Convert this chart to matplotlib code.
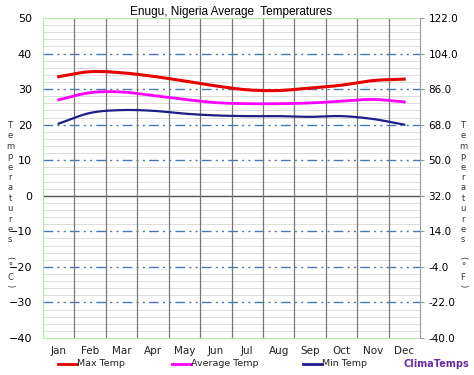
import matplotlib
matplotlib.use("Agg")
import matplotlib.pyplot as plt
import numpy as np

# Enugu, Nigeria - monthly temps (deg C)
months = ['Jan', 'Feb', 'Mar', 'Apr', 'May', 'Jun', 'Jul', 'Aug', 'Sep', 'Oct', 'Nov', 'Dec']
max_temp = [33.5, 34.9, 34.6, 33.6, 32.3, 30.9, 29.8, 29.6, 30.3, 31.1, 32.4, 32.8]
avg_temp = [27.0, 29.0, 29.2, 28.2, 27.1, 26.2, 25.9, 25.9, 26.1, 26.6, 27.1, 26.4]
min_temp = [20.3, 23.3, 24.1, 23.9, 23.1, 22.6, 22.4, 22.4, 22.2, 22.4, 21.6, 20.0]


def smooth(y, n=20):
    # catmull-rom style smoothing so the lines look like the original curves
    y = np.asarray(y, dtype=float)
    p = np.concatenate([[2*y[0]-y[1]], y, [2*y[-1]-y[-2]]])
    xs, ys = [], []
    for i in range(len(y)-1):
        t = np.linspace(0, 1, n, endpoint=False)
        p0, p1, p2, p3 = p[i], p[i+1], p[i+2], p[i+3]
        seg = 0.5*((2*p1) + (-p0+p2)*t + (2*p0-5*p1+4*p2-p3)*t**2 + (-p0+3*p1-3*p2+p3)*t**3)
        xs.extend(i + t)
        ys.extend(seg)
    xs.append(len(y)-1)
    ys.append(y[-1])
    return np.array(xs), np.array(ys)


fig = plt.figure(figsize=(4.74, 3.75), dpi=100)
ax = fig.add_axes([43/474, 1-338/375, 377/474, 320/375])
x = np.arange(12)
ax.set_xlim(-0.5, 11.5)
ax.set_ylim(-40, 50)

# minor grid every 2 degrees
for v in range(-40, 51, 2):
    if v % 10 != 0:
        ax.axhline(v, color='#dcdcdc', lw=0.7, zorder=0)
for v in [-30, -20, -10, 10, 20, 30, 40]:
    ax.axhline(v, color='#4a78b5', lw=1.0, ls=(0, (7, 3, 1.5, 3, 1.5, 3)), zorder=1)
ax.axhline(0, color='#555555', lw=1.0, zorder=1)
for b in np.arange(0.5, 11.5, 1):
    ax.axvline(b, color='#777777', lw=0.9, zorder=1)

for spine in ['left', 'top', 'bottom']:
    ax.spines[spine].set_color('#b8e6b0')
    ax.spines[spine].set_linewidth(0.8)
ax.spines['right'].set_color('#999999')
ax.spines['right'].set_linewidth(0.8)

sx, sy = smooth(max_temp)
ax.plot(sx, sy, color='#e60000', lw=2.2, zorder=3)
sx, sy = smooth(avg_temp)
ax.plot(sx, sy, color='#ff00ff', lw=2.0, zorder=3)
sx, sy = smooth(min_temp)
ax.plot(sx, sy, color='#1f1f8a', lw=1.6, zorder=3)

ax.set_xticks(x)
ax.set_xticklabels(months, fontsize=7.5, color='#222222')
ax.tick_params(axis='x', length=0, pad=6)
ax.set_yticks(range(-40, 51, 10))
ax.tick_params(axis='y', length=0, labelsize=8, pad=8)

ax2 = ax.twinx()
ax2.set_ylim(-40, 122)
ax2.set_yticks(np.arange(-40, 123, 18))
ax2.set_yticklabels(['%.1f' % v for v in np.arange(-40, 123, 18)], fontsize=7.5)
ax2.tick_params(axis='y', length=3, color='#999999', pad=3)
for s in ['left', 'top', 'bottom', 'right']:
    ax2.spines[s].set_visible(False)

ax.set_title('Enugu, Nigeria Average  Temperatures', fontsize=8.5,
             family='Liberation Sans', pad=2)

# stacked vertical axis labels
def stacked(xpix, unit):
    fig.text(xpix/474, 1-121/375, '\n'.join('Temperatures'), fontsize=6, linespacing=1.2,
             ha='center', va='top', color='#333333')
    tail = [('(', 258, -90), ('°', 267, 0), (unit, 277, 0), (')', 286, -90)]
    for c, yp, rot in tail:
        fig.text(xpix/474, 1-yp/375, c, fontsize=6, ha='center', va='center', rotation=rot, color='#333333')

stacked(10, 'C')
stacked(463, 'F')

# legend drawn below the axes
leg_items = [(58, 'Max Temp', '#e60000'), (172, 'Average Temp', '#ff00ff'), (303, 'Min Temp', '#1f1f8a')]
for xp, lab, col in leg_items:
    fig.add_artist(plt.Line2D([xp/474, (xp+19)/474], [1-364/375, 1-364/375], color=col, lw=2))
    fig.text((xp+19)/474, 1-364/375, lab, fontsize=6.8, va='center', ha='left', color='#222222')
fig.text(403/474, 1-364/375, 'ClimaTemps', fontsize=7, fontweight='bold', color='#6a2ca0',
         va='center', ha='left')

fig.savefig('out.png', dpi=100)
